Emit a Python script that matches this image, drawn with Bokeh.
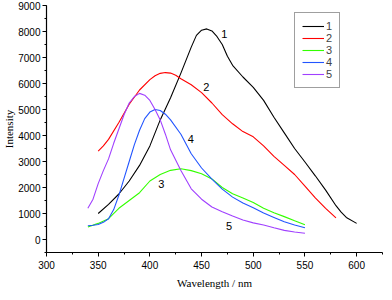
from bokeh.plotting import figure
from bokeh.models import Range1d, SingleIntervalTicker, Legend, LegendItem
from bokeh.core.properties import value
from bokeh.embed import file_html
from bokeh.resources import INLINE

# ---- data ----
x1 = [350, 360, 370, 380, 390, 400, 410, 420, 430, 440, 445, 450, 455, 460, 465, 470, 475, 480, 490, 500,
      510, 520, 530, 540, 550, 560, 570, 580, 585, 590, 600]
y1 = [1000, 1350, 1750, 2250, 2850, 3600, 4600, 5450, 6400, 7400, 7850, 8050, 8100, 8020, 7800, 7500, 7050,
      6700, 6250, 5850, 5350, 4700, 4100, 3500, 2980, 2450, 1900, 1300, 1050, 850, 620]

x2 = [350, 355, 360, 370, 380, 390, 400, 405, 410, 415, 420, 425, 430, 440, 450, 460, 470, 480, 490, 500,
      510, 520, 530, 540, 550, 560, 570, 580]
y2 = [3400, 3600, 3850, 4500, 5200, 5750, 6150, 6300, 6390, 6420, 6400, 6320, 6180, 5950, 5650, 5250, 4800,
      4450, 4150, 3950, 3600, 3200, 2850, 2500, 2050, 1600, 1200, 830]

x3 = [340, 350, 360, 370, 380, 390, 400, 410, 420, 430, 440, 450, 460, 470, 480, 490, 500, 510, 520, 530, 540, 550]
y3 = [480, 620, 800, 1200, 1500, 1800, 2250, 2500, 2660, 2720, 2650, 2530, 2330, 2000, 1760, 1600, 1420,
      1200, 1030, 880, 720, 570]

x4 = [340, 345, 350, 355, 360, 365, 370, 375, 380, 385, 390, 395, 400, 405, 410, 415, 420, 430, 440, 450,
      460, 470, 480, 490, 500, 510, 520, 530, 540, 550]
y4 = [530, 550, 580, 660, 800, 1150, 1700, 2350, 3000, 3650, 4200, 4650, 4900, 5000, 4960, 4820, 4600, 4050,
      3300, 2750, 2320, 1940, 1630, 1400, 1220, 1020, 850, 680, 560, 450]

x5 = [340, 345, 350, 355, 360, 365, 370, 375, 380, 385, 390, 395, 400, 405, 410, 415, 420, 430, 440, 450,
      460, 470, 480, 490, 500, 510, 520, 530, 540, 550]
y5 = [1200, 1550, 2150, 2650, 3100, 3700, 4250, 4800, 5250, 5500, 5620, 5550, 5350, 5000, 4600, 4050, 3450,
      2650, 1950, 1550, 1250, 1070, 900, 750, 640, 560, 450, 350, 290, 240]

series_names = ["1", "2", "3", "4", "5"]
colors = ["#000000", "#ff0000", "#33ff00", "#2255ff", "#a040ff"]

label_text = ["1", "2", "3", "4", "5"]
label_x = [472, 454.5, 411, 439.5, 476.5]
label_y = [7920, 5870, 2120, 3880, 530]

# ---- figure ----
p = figure(width=384, height=292, output_backend="svg", toolbar_location=None,
           x_range=Range1d(300, 625), y_range=Range1d(-500, 9000),
           min_border_left=40, min_border_right=2, min_border_top=5, min_border_bottom=40)
p.outline_line_color = None
p.xgrid.visible = False
p.ygrid.visible = False
p.background_fill_color = "white"
p.border_fill_color = "white"

xs = [x1, x2, x3, x4, x5]
ys = [y1, y2, y3, y4, y5]
items = []
for xx, yy, c, n in zip(xs, ys, colors, series_names):
    r = p.line(xx, yy, line_color=c, line_width=1.1)
    items.append(LegendItem(label=n, renderers=[r]))

p.text(x=label_x, y=label_y, text=label_text, text_font=value("Liberation Sans"),
       text_font_size="11px", text_align="center", text_baseline="middle", text_color="black")

legend = Legend(items=items, location=(248, 164), orientation="vertical",
                label_text_font="Liberation Sans", label_text_font_size="11px",
                glyph_width=22, glyph_height=12, label_height=12, label_width=6,
                label_standoff=2, spacing=0, padding=7, margin=0,
                border_line_color="#404040", border_line_width=1,
                background_fill_color="white", background_fill_alpha=1)
p.add_layout(legend)

for ax in (p.xaxis[0], p.yaxis[0]):
    ax.axis_line_color = "black"
    ax.axis_line_width = 1.2
    ax.major_tick_line_color = "black"
    ax.minor_tick_line_color = "black"
    ax.major_tick_out = 4
    ax.major_tick_in = 0
    ax.minor_tick_out = 2
    ax.minor_tick_in = 0
    ax.major_label_text_font = "Liberation Sans"
    ax.major_label_text_font_size = "10px"
    ax.major_label_text_color = "black"
    ax.axis_label_text_font = "Liberation Serif"
    ax.axis_label_text_font_size = "11px"
    ax.axis_label_text_font_style = "normal"
    ax.axis_label_text_color = "black"

p.xaxis.ticker = SingleIntervalTicker(interval=50, num_minor_ticks=2)
p.yaxis.ticker = SingleIntervalTicker(interval=1000, num_minor_ticks=2)
p.xaxis.axis_label = "Wavelength / nm"
p.yaxis.axis_label = "Intensity"
p.xaxis.major_label_standoff = 4
p.xaxis.axis_label_standoff = 5
p.yaxis.major_label_standoff = 2
p.yaxis.axis_label_standoff = 0

open("out.html", "w").write(file_html(p, INLINE))
